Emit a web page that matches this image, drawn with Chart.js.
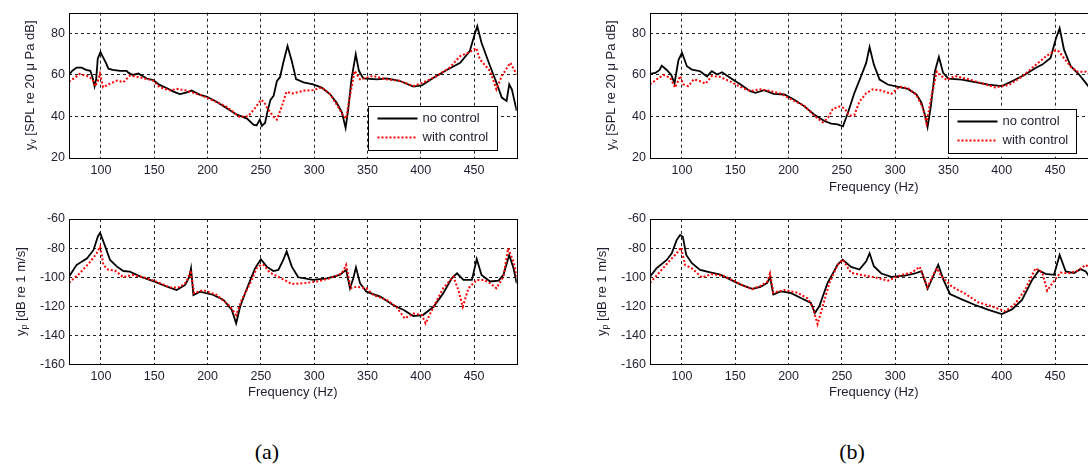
<!DOCTYPE html>
<html>
<head>
<meta charset="utf-8">
<script src="https://cdn.jsdelivr.net/npm/chart.js"></script>
<style>
body { margin: 0; width: 1088px; height: 464px; overflow: hidden; background: #fff; position: relative; }
canvas { position: absolute; }
.lbl { position: absolute; top: 439px; width: 100px; text-align: center;
       font-family: "Liberation Serif", "Times New Roman", serif; font-size: 22px; color: #000; }
</style>
</head>
<body>
<canvas id="aTop" width="540" height="200" style="left:0;top:0"></canvas>
<canvas id="aBot" width="540" height="210" style="left:0;top:200px"></canvas>
<canvas id="bTop" width="540" height="200" style="left:581px;top:0"></canvas>
<canvas id="bBot" width="540" height="210" style="left:581px;top:200px"></canvas>
<div class="lbl" style="left:217px">(a)</div>
<div class="lbl" style="left:802px">(b)</div>
<script>
const seriesNames = ['no control', 'with control'];
const freqTicks = [100, 150, 200, 250, 300, 350, 400, 450];
const splTicks = [20, 40, 60, 80];
const velTicks = [-160, -140, -120, -100, -80, -60];

// [frequency Hz, level dB]
const aTopNo = [[70,60],[73,62],[77,63.5],[82,63.5],[86,62.5],[90,62],[92,59],[94,54.5],[95.5,58],[97,68],[99.5,71],[102,68.5],[105,65.5],[107,63],[111,62.5],[118,62],[124,62],[126,61],[130,60],[135,60.7],[143,58.3],[149,57.5],[155,55.2],[162,53.6],[168,52],[174,50.8],[180,51.5],[185,52.5],[193,50.4],[199,49.6],[208,47.2],[218,44],[227,41],[237,39],[243,36.1],[246,35.7],[249,38.5],[251,35.5],[254,37],[256,42],[259,48],[262,50],[265,57],[268,59],[271,65.9],[275,74],[279,66.7],[283,58],[290,56.4],[299,55.5],[307,53.9],[315,50.7],[321,46.7],[326,42],[329.5,34.5],[332,43.5],[335,58],[339,70],[342,62],[346,58.4],[359,57.9],[368,58.4],[380,57.2],[393,54.4],[401,55],[412,58.7],[424,62.3],[437,65.9],[446,71.5],[451,80.3],[453,83.5],[457,75.5],[465,64.3],[471,56.3],[476,49.1],[480.5,47.5],[483,55.5],[485.5,53],[490,42.7]];
const aTopWith = [[70,56.8],[75,58.5],[80,60.5],[87,59.5],[92,58],[94.5,54.6],[97,57],[99,60.6],[102,54.1],[108,55.7],[115,57.3],[121,56.5],[127,59.7],[136,58.9],[149,57.3],[155,54.1],[165,52.5],[171,53.3],[180,52.5],[193,50.4],[205,47.8],[218,44.6],[230,39.8],[238,40.1],[244.5,44],[250,48],[253,47],[256,44],[262,39.8],[265,38.5],[269.5,44.6],[274,51.9],[280,51.1],[290,52.4],[299,52.7],[307,54],[315,50.7],[322.5,44.6],[327,40.6],[330,39],[333.5,49.9],[338,62],[343,57.9],[355,59.5],[368,57.9],[380,57.2],[393,54.7],[402,56.3],[415,59.5],[427,63.5],[437,69.1],[446,71],[452,73],[455.5,67.5],[465,61.9],[471,53.1],[476,59.5],[484,65.9],[490,60.3]];
const aBotNo = [[70,-99.7],[77,-91.7],[87,-87],[93,-81.3],[97,-72.2],[99.2,-69.5],[104,-79],[108.5,-88.2],[115,-92.8],[121,-95.8],[127,-96.2],[137,-99.7],[149,-102.7],[162,-106.6],[171,-108.9],[179,-105.4],[183,-99.7],[184.5,-94],[186.7,-112.3],[193,-110],[205.5,-112.3],[215,-115.7],[222.7,-122.6],[226.8,-131.8],[230.5,-120.4],[237,-107.7],[244.6,-93.9],[250,-87.7],[255.5,-92.8],[261.7,-95.8],[266.4,-95],[271,-88.2],[274.2,-82.3],[279,-92.8],[285,-100.1],[299,-101.9],[312,-100.8],[324,-98.5],[330,-95],[333.6,-107.7],[336.7,-100.8],[339.2,-93.3],[343,-104.2],[349,-110],[362,-113.4],[374,-119.2],[384,-122.6],[393,-126.8],[402,-126.1],[412,-120.4],[421,-111.2],[429,-100.8],[434,-97.4],[440,-101.9],[448,-101.9],[452.5,-87.5],[457,-98.5],[465,-103],[473,-102.4],[477.5,-98.5],[483,-84.8],[487,-93.9],[490,-104.2]];
const aBotWith = [[70,-103.8],[80,-97.4],[90,-89.4],[96,-83.6],[99.2,-79],[102.3,-91.7],[107,-95],[113,-95.4],[121,-100.1],[129,-98.5],[140,-100.1],[152,-103.1],[165,-107.2],[174,-107],[180.4,-103.1],[184.2,-95.5],[187.3,-111],[196,-108.9],[208.6,-112.3],[221,-120],[226.8,-126.1],[232,-115.7],[240,-104.2],[246,-93.9],[250,-91.6],[252.4,-91.6],[258.6,-97],[271,-101.5],[279,-104.7],[290,-104.2],[302,-103.1],[315,-100.8],[326,-97.4],[330,-91.6],[334.3,-107.7],[340,-106.6],[349,-107.7],[355.5,-112.3],[368,-115.7],[377,-120.4],[385,-128.4],[393,-125],[401,-126.1],[404.5,-131.8],[412,-120.4],[421,-107.7],[430.6,-99.7],[435.3,-108.9],[439.4,-120.4],[444.7,-107.7],[452.5,-101.9],[459,-101.9],[465,-104.2],[471,-107.7],[477.5,-99.7],[482,-80.2],[487,-89.4],[490,-99.7]];
const bTopNo = [[70,60.5],[75,61],[79,62.4],[81,64.5],[85.7,62.4],[90,60],[93,56],[96.7,67.2],[100,70.7],[104.6,64.2],[109.3,62.6],[117,61.8],[123.5,59.3],[128,61.8],[133,60.2],[137.6,61.3],[145.5,58.6],[155,55.4],[164,52.2],[169,51.4],[177,52.7],[186,50.9],[196,50.6],[205,48.2],[214.6,45],[224,41],[233.5,37.8],[240,36.6],[246,36.2],[251,35.3],[255.6,41.7],[261.8,51.4],[268,59.4],[272.8,65.8],[276,73.5],[280,65],[285.4,57.8],[293,55.4],[302.7,54.3],[312,53.3],[320,50.6],[324.7,46.6],[327.8,41],[330.4,34.9],[333.5,45],[337.3,61.8],[341,68.7],[345,61],[350,58.2],[362.5,57.8],[375,56.6],[387.6,55.4],[400,54.6],[409.6,57],[422,60.2],[431.6,63.4],[438,65],[445.8,68.2],[450.5,77],[454.3,82.6],[458.4,72.2],[464.7,64.2],[472.5,60.2],[478.8,56.2],[483,53.3],[487,51],[490,50]];
const bTopWith = [[70,55.5],[76.3,57.9],[82.6,60],[89,58.6],[93.6,53.9],[98.3,59.5],[101,55.5],[106,54.6],[111,57.9],[117,57],[122,55.8],[128,59.5],[136,59],[145.5,56.8],[155,54.2],[164,52.3],[173.7,53.1],[183,52.3],[192.6,51],[205,47.6],[214.6,45.2],[224,40.4],[232,37.2],[236.6,39],[241.4,43.6],[247.7,44.8],[252.4,44],[257,40.3],[261.8,40.8],[266.5,47.2],[272.8,51.2],[279,53.1],[287,52.5],[296.4,50.9],[304,54.4],[312,53.6],[320,50.4],[326,44],[329.4,36.8],[334,49.6],[339,61.6],[342,60],[348.4,57.6],[356,59.5],[369,57.9],[381,56],[394,54],[406.6,55.2],[419,59.2],[431.7,64.8],[441,68.8],[450.6,72],[454,71.2],[458.5,68],[464.7,64],[471,61.6],[479,61.6],[483,60],[487,59],[490,58]];
const bBotNo = [[70,-99.7],[76,-94],[85.7,-88.2],[90.4,-83.6],[95,-74.5],[98.3,-71],[100.8,-72.2],[104,-84.7],[109.3,-90.4],[117,-95],[126.6,-96.7],[136,-98.3],[145.5,-101.7],[155,-105.2],[166,-108.1],[173.7,-106.7],[180,-104],[182.6,-99.9],[185.7,-112],[192.6,-109.8],[202,-110.9],[211.5,-114.4],[221,-117.8],[224.7,-124.7],[228.8,-120.1],[236.6,-104],[240,-99.5],[246,-91.4],[250.8,-88],[258.6,-93],[266.5,-94.8],[272.8,-89.1],[276,-83.6],[280,-92.5],[287,-97.5],[296.4,-99.8],[309,-98.9],[318.5,-97.5],[324.7,-95.9],[330.4,-108.1],[335.7,-99.4],[340.4,-91.4],[345.2,-101.7],[351.4,-111.6],[362.5,-115.3],[375,-119.2],[387.6,-122.6],[400,-125.4],[409.6,-122.2],[419,-115.7],[428.5,-101.9],[434.8,-95.4],[441,-97.7],[449,-98.4],[454.3,-84.7],[460,-96.1],[467.8,-97.2],[474,-94.5],[478.8,-96.1],[483,-100.6],[490,-102]];
const bBotWith = [[70,-103.9],[79.4,-96.3],[89,-88.2],[95,-83.6],[99,-79.5],[103,-91.7],[109.3,-94],[118.7,-100.2],[128,-97.9],[139,-99.2],[148.6,-102.5],[158,-106],[166,-108.3],[173.7,-106],[180,-103.1],[182.6,-97.4],[185.7,-110.7],[195.8,-108.9],[208.3,-110.7],[217.7,-114.6],[222.5,-120.4],[227.2,-132.3],[231.9,-120.4],[238.2,-104.2],[246,-91.6],[250.8,-88],[258.6,-97],[268,-98.5],[280.7,-100.1],[293.3,-102.4],[305.8,-98.5],[315.3,-97],[323,-92.9],[330.4,-106.8],[335.7,-98.5],[339,-93.9],[343.6,-99.5],[353,-106.4],[365.6,-111.4],[378,-117.4],[390.7,-120.1],[403.3,-123.5],[412.7,-118.3],[422,-108.6],[431.6,-93.9],[438,-96.9],[442.6,-109.3],[447.4,-104.2],[455,-96.9],[463,-97.4],[471,-95.6],[478.8,-91.6],[483,-93.9],[490,-97]];

const FONT = '"Liberation Sans", Arial, sans-serif';
const TXT = '#1e1e30';

// box around plot area, y title with subscript, legend inside the axes
const panelDecor = {
  id: 'panelDecor',
  afterDraw(chart, args, o) {
    const ctx = chart.ctx, a = chart.chartArea;
    ctx.save();
    ctx.strokeStyle = '#000';
    ctx.lineWidth = 1;
    ctx.setLineDash([]);
    ctx.strokeRect(Math.round(a.left) + 0.5, Math.round(a.top) + 0.5,
                   Math.round(a.right - a.left), Math.round(a.bottom - a.top));

    ctx.save();
    ctx.translate(o.titleX, (a.top + a.bottom) / 2);
    ctx.rotate(-Math.PI / 2);
    ctx.textBaseline = 'middle';
    ctx.textAlign = 'left';
    ctx.fillStyle = TXT;
    let total = 0;
    o.yTitle.forEach(p => { ctx.font = p[1] + 'px ' + FONT; total += ctx.measureText(p[0]).width; });
    let x = -total / 2;
    o.yTitle.forEach(p => {
      ctx.font = p[1] + 'px ' + FONT;
      ctx.fillText(p[0], x, p[2]);
      x += ctx.measureText(p[0]).width;
    });
    ctx.restore();

    if (o.legend) {
      const L = o.legend;
      const bx = Math.round(a.right - L.right - L.w) + 0.5;
      const by = Math.round(a.bottom - L.bottom - L.h) + 0.5;
      ctx.fillStyle = '#fff';
      ctx.fillRect(bx, by, L.w, L.h);
      ctx.strokeStyle = '#000';
      ctx.strokeRect(bx, by, L.w, L.h);
      ctx.font = '13px ' + FONT;
      ctx.textBaseline = 'middle';
      chart.data.datasets.forEach((ds, i) => {
        const yy = by + 12 + i * 19;
        ctx.strokeStyle = ds.borderColor;
        ctx.lineWidth = ds.borderWidth;
        ctx.setLineDash(ds.borderDash || []);
        ctx.beginPath();
        ctx.moveTo(bx + 9, yy);
        ctx.lineTo(bx + 49, yy);
        ctx.stroke();
        ctx.setLineDash([]);
        ctx.fillStyle = TXT;
        ctx.fillText(ds.label, bx + 54, yy);
      });
    }
    ctx.restore();
  }
};

function makePanel(id, noCtrl, withCtrl, cfg) {
  const toPts = arr => arr.map(p => ({ x: p[0], y: p[1] }));
  new Chart(document.getElementById(id), {
    type: 'line',
    data: {
      datasets: [
        { label: seriesNames[0], data: toPts(noCtrl), borderColor: '#000', borderWidth: 1.8,
          pointRadius: 0, tension: 0, order: 1 },
        { label: seriesNames[1], data: toPts(withCtrl), borderColor: '#ff0000', borderWidth: 2,
          borderDash: [2, 2], pointRadius: 0, tension: 0, order: 0 }
      ]
    },
    options: {
      responsive: false,
      animation: false,
      devicePixelRatio: 1,
      layout: { padding: { left: 0, right: 23.3, top: cfg.padTop, bottom: 0 } },
      plugins: {
        legend: { display: false },
        tooltip: { enabled: false },
        panelDecor: { titleX: cfg.titleX, yTitle: cfg.yTitle, legend: cfg.legend }
      },
      scales: {
        x: {
          type: 'linear', min: 70, max: 490,
          afterBuildTicks: s => { s.ticks = freqTicks.map(v => ({ value: v })); },
          afterFit: s => { s.height = cfg.xAxisH; },
          grid: { color: '#222', lineWidth: 1, drawTicks: false },
          border: { display: false, dash: [3, 3] },
          ticks: { color: TXT, font: { family: FONT, size: 12.5 }, padding: 5, maxRotation: 0, autoSkip: false },
          title: { display: cfg.xTitle, text: 'Frequency (Hz)', color: TXT,
                   font: { family: FONT, size: 13 }, padding: { top: 0, bottom: cfg.xTitlePad } }
        },
        y: {
          type: 'linear', min: cfg.yMin, max: cfg.yMax,
          afterBuildTicks: s => { s.ticks = cfg.yTicks.map(v => ({ value: v })); },
          afterFit: s => { s.width = 69; },
          grid: { color: '#222', lineWidth: 1, drawTicks: false },
          border: { display: false, dash: [3, 3] },
          ticks: { color: TXT, font: { family: FONT, size: 12.5 }, padding: 4 }
        }
      }
    },
    plugins: [panelDecor]
  });
}

const splTitle = [['y', 13, 0], ['v', 9, 4], [' [SPL re 20 \u03bc Pa dB]', 13, 0]];
const velTitle = [['y', 13, 0], ['p', 9, 4], [' [dB re 1 m/s]', 13, 0]];

makePanel('aTop', aTopNo, aTopWith, { yMin: 20, yMax: 90, yTicks: splTicks, padTop: 12.7, xAxisH: 42,
  xTitle: false, xTitlePad: 4.8, titleX: 30, yTitle: splTitle,
  legend: { right: 20, bottom: 8, w: 129, h: 44 } });
makePanel('aBot', aBotNo, aBotWith, { yMin: -160, yMax: -60, yTicks: velTicks, padTop: 19, xAxisH: 45.7,
  xTitle: true, xTitlePad: 9.5, titleX: 21, yTitle: velTitle, legend: null });
makePanel('bTop', bTopNo, bTopWith, { yMin: 20, yMax: 90, yTicks: splTicks, padTop: 12.7, xAxisH: 42,
  xTitle: true, xTitlePad: 4.8, titleX: 30, yTitle: splTitle,
  legend: { right: 21.5, bottom: 5, w: 128, h: 44 } });
makePanel('bBot', bBotNo, bBotWith, { yMin: -160, yMax: -60, yTicks: velTicks, padTop: 19, xAxisH: 45.7,
  xTitle: true, xTitlePad: 9.5, titleX: 21, yTitle: velTitle, legend: null });
</script>
</body>
</html>
